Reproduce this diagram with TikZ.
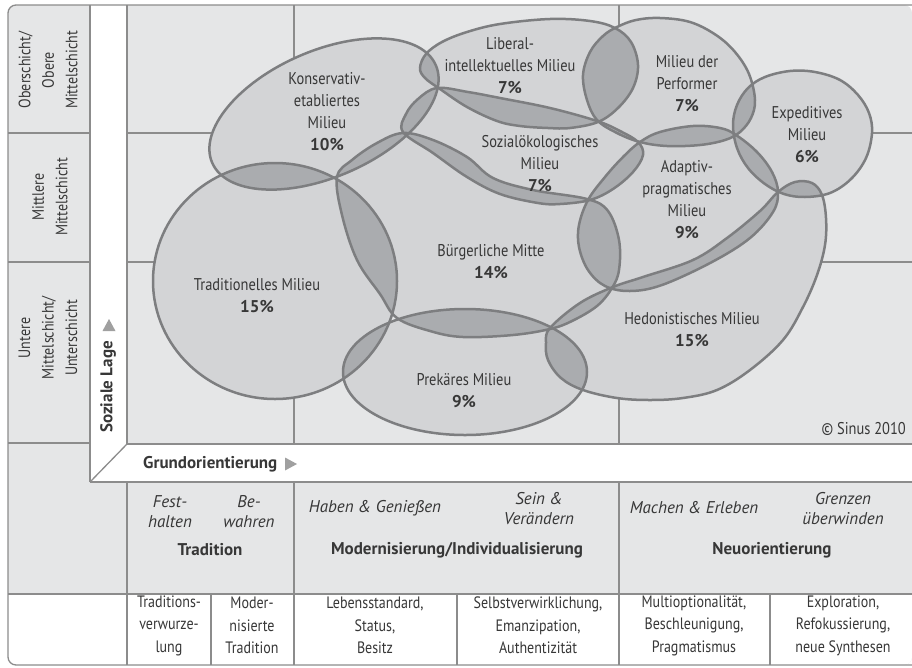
\documentclass[tikz,border=0pt]{standalone}
\usepackage{fontspec}
\setmainfont{PT Sans}
\newfontfamily\condfont{PT Sans}[FakeStretch=0.85]
\definecolor{bgc}{RGB}{229,230,231}
\definecolor{blobc}{RGB}{211,212,214}
\definecolor{ovc}{RGB}{170,172,175}
\definecolor{edgec}{RGB}{125,126,128}
\definecolor{gridc}{RGB}{140,140,140}
\definecolor{txtc}{RGB}{55,55,55}
\definecolor{triac}{RGB}{160,160,160}
% milieu outlines (pixel-like units, y downwards)
\def\pTM{(275,281) ellipse [x radius=122, y radius=118]}
\def\pPR{(465,372) ellipse [x radius=122, y radius=63]}
\def\pKE{[rotate around={23.6:(324,114)}] (324,114) ellipse [x radius=122, y radius=63]}
\def\pLI{plot[smooth cycle, tension=0.6] coordinates {(420,68) (426,54) (442,42) (467,32) (500,24) (550,19) (590,21) (615,28) (631,42) (638,65) (633,88) (618,108) (598,122) (570,128) (548,128) (520,126) (497,121) (467,107) (440,89) (425,78)}}
\def\pPF{plot[smooth cycle, tension=0.6] coordinates {(617,27) (603,36) (590,52) (583,75) (587,100) (597,120) (617,133) (640,142) (667,146) (700,145) (725,140) (740,132) (751,118) (755,100) (749,74) (735,52) (716,35) (690,22) (660,18) (636,20)}}
\def\pEX{plot[smooth cycle, tension=0.6] coordinates {(733,125) (737,105) (748,88) (765,77) (790,71) (815,72) (840,80) (858,95) (869,113) (872,133) (866,158) (851,179) (830,193) (805,197) (784,194) (765,184) (748,168) (737,148)}}
\def\pSO{plot[smooth cycle, tension=0.6] coordinates {(403,132) (406,114) (418,99) (437,88) (468,92) (500,98) (550,108) (597,121) (620,131) (638,142) (643,155) (633,172) (613,189) (590,200) (560,204) (538,203) (500,194) (467,177) (433,153)}}
\def\pAP{plot[smooth cycle, tension=0.6] coordinates {(640,142) (660,132) (693,126) (720,128) (736,135) (757,152) (772,172) (778,192) (773,212) (750,238) (712,262) (662,285) (630,291) (605,286) (588,270) (579,247) (579,225) (588,200) (605,177) (623,157)}}
\def\pHE{plot[smooth cycle, tension=0.6] coordinates {(550,328) (580,303) (613,287) (643,277) (693,260) (727,238) (760,211) (778,192) (795,182) (812,183) (822,195) (826,218) (825,245) (817,275) (803,307) (783,340) (750,370) (717,390) (683,398) (650,400) (617,398) (583,390) (561,378) (548,360) (546,343)}}
\def\pBM{plot[smooth cycle, tension=0.6] coordinates {(337,177) (352,160) (377,143) (403,133) (433,140) (467,157) (493,178) (533,190) (587,199) (608,211) (619,240) (619,270) (612,288) (597,306) (572,321) (550,329) (513,335) (463,337) (430,331) (397,318) (380,294) (357,260) (342,215)}}
% darker fill where two milieus overlap
\newcommand\ovlap[2]{\begin{scope}\clip #1; \fill[ovc] #2;\end{scope}}
% bold share figures
\newcommand\pct[1]{{\rmfamily\bfseries #1}}
\begin{document}
\begin{tikzpicture}[x=1pt,y=-1pt,
  gridline/.style={draw=gridc, line width=1.3pt},
  blobline/.style={draw=edgec, line width=2.5pt},
  lbl/.style={align=center, text=txtc, inner sep=0pt, font=\condfont\fontsize{17}{22}\selectfont},
  rowlbl/.style={align=center, text=txtc, inner sep=0pt, rotate=90, font=\condfont\fontsize{16.5}{23.5}\selectfont},
  ital/.style={align=center, text=txtc, inner sep=0pt, font=\rmfamily\fontsize{17}{20}\selectfont\itshape},
  hdr/.style={align=center, text=txtc, inner sep=0pt, font=\rmfamily\fontsize{17}{22}\selectfont\bfseries},
  cell/.style={align=center, text=txtc, inner sep=0pt, font=\condfont\fontsize{16.5}{22.5}\selectfont}]
\useasboundingbox (0,0) rectangle (912,667);

% background areas
\fill[bgc, rounded corners=8] (912,5) -- (8,5) -- (8,665) -- (912,665) -- cycle;
\fill[white, rounded corners=8] (912,594) -- (8,594) -- (8,665) -- (912,665) -- cycle;
\fill[white] (8,594) rectangle (912,630);
\fill[white] (90,5) rectangle (127,482);
\fill[white] (127,444) rectangle (912,482);

% grid inside the field
\draw[gridline] (127,133) -- (912,133);
\draw[gridline] (127,262) -- (912,262);
\draw[gridline] (294,5) -- (294,444);
\draw[gridline] (619,5) -- (619,444);

% milieu areas
\foreach \p in {\pTM,\pPR,\pKE,\pLI,\pPF,\pEX,\pSO,\pAP,\pHE,\pBM}{\fill[blobc] \p;}
\ovlap{\pKE}{\pLI}
\ovlap{\pKE}{\pSO}
\ovlap{\pKE}{\pBM}
\ovlap{\pKE}{\pTM}
\ovlap{\pLI}{\pPF}
\ovlap{\pLI}{\pSO}
\ovlap{\pPF}{\pSO}
\ovlap{\pPF}{\pAP}
\ovlap{\pPF}{\pEX}
\ovlap{\pSO}{\pBM}
\ovlap{\pSO}{\pAP}
\ovlap{\pEX}{\pAP}
\ovlap{\pEX}{\pHE}
\ovlap{\pAP}{\pBM}
\ovlap{\pAP}{\pHE}
\ovlap{\pBM}{\pTM}
\ovlap{\pBM}{\pPR}
\ovlap{\pBM}{\pHE}
\ovlap{\pTM}{\pPR}
\ovlap{\pPR}{\pHE}
\foreach \p in {\pTM,\pPR,\pKE,\pLI,\pPF,\pEX,\pSO,\pAP,\pHE,\pBM}{\draw[blobline] \p;}

% frame and table rules
\draw[gridline] (90,5) -- (90,482);
\draw[gridline] (127,5) -- (127,444);
\draw[gridline] (127,482) -- (127,665);
\draw[gridline] (8,133) -- (90,133);
\draw[gridline] (8,262) -- (90,262);
\draw[gridline] (8,443) -- (90,443);
\draw[gridline] (127,444) -- (912,444);
\draw[gridline] (90,482) -- (912,482);
\draw[gridline] (90,482) -- (127,444);
\draw[gridline] (8,594) -- (912,594);
\draw[gridline] (294,482) -- (294,665);
\draw[gridline] (619,482) -- (619,665);
\draw[gridline] (211,594) -- (211,665);
\draw[gridline] (457,594) -- (457,665);
\draw[gridline] (770,594) -- (770,665);
\draw[gridline, rounded corners=8] (912,665) -- (8,665) -- (8,5) -- (912,5);

% axis arrows
\fill[triac] (102.5,331) -- (115.5,331) -- (109,319) -- cycle;
\fill[triac] (285,457.5) -- (285,470.5) -- (297,464) -- cycle;

% row labels
\node[rowlbl] (ob) at (48,70) {Oberschicht/\\Obere\\Mittelschicht};
\node[rowlbl] (mi) at (50,197) {Mittlere\\Mittelschicht};
\node[rowlbl] (un) at (48,338) {Untere\\Mittelschicht/\\Unterschicht};
\node[hdr, rotate=90, anchor=west] (sl) at (108,433) {Soziale Lage};
\node[hdr, anchor=west] (go) at (143,464) {Grundorientierung};

% milieu labels
\node[lbl] (ke) at (327,112) {Konservativ-\\etabliertes\\Milieu\\\pct{10\%}};
\node[lbl] (li) at (510,66) {Liberal-\\intellektuelles Milieu\\\pct{7\%}};
\node[lbl] (pf) at (687,84) {Milieu der\\Performer\\\pct{7\%}};
\node[lbl] (so) at (540,164) {Sozialökologisches\\Milieu\\\pct{7\%}};
\node[lbl] (ex) at (807,135) {Expeditives\\Milieu\\\pct{6\%}};
\node[lbl] (ap) at (687,200) {Adaptiv-\\pragmatisches\\Milieu\\\pct{9\%}};
\node[lbl] (bm) at (491,262) {Bürgerliche Mitte\\\pct{14\%}};
\node[lbl] (tm) at (257,296) {Traditionelles Milieu\\\pct{15\%}};
\node[lbl] (pr) at (464,391) {Prekäres Milieu\\\pct{9\%}};
\node[lbl] (he) at (692,330) {Hedonistisches Milieu\\\pct{15\%}};
\node[lbl, anchor=east] (cp) at (906,429) {© Sinus 2010};

% value orientation header
\node[ital] (fh) at (170,512) {Fest-\\halten};
\node[ital] (bw) at (249,512) {Be-\\wahren};
\node[ital] (hg) at (375,508) {Haben \& Genießen};
\node[ital] (sv) at (539,509) {Sein \&\\Verändern};
\node[ital] (me) at (694,508) {Machen \& Erleben};
\node[ital] (gu) at (843,509) {Grenzen\\überwinden};
\node[hdr] (tr) at (210,550) {Tradition};
\node[hdr] (mo) at (457,550) {Modernisierung/Individualisierung};
\node[hdr] (ne) at (772,550) {Neuorientierung};

% bottom row
\node[cell] (c1) at (169,625.5) {Traditions-\\verwurze-\\lung};
\node[cell] (c2) at (252,625.5) {Moder-\\nisierte\\Tradition};
\node[cell] (c3) at (375,625.5) {Lebensstandard,\\Status,\\Besitz};
\node[cell] (c4) at (538,625.5) {Selbstverwirklichung,\\Emanzipation,\\Authentizität};
\node[cell] (c5) at (694,625.5) {Multioptionalität,\\Beschleunigung,\\Pragmatismus};
\node[cell] (c6) at (843,625.5) {Exploration,\\Refokussierung,\\neue Synthesen};
\end{tikzpicture}
\end{document}
